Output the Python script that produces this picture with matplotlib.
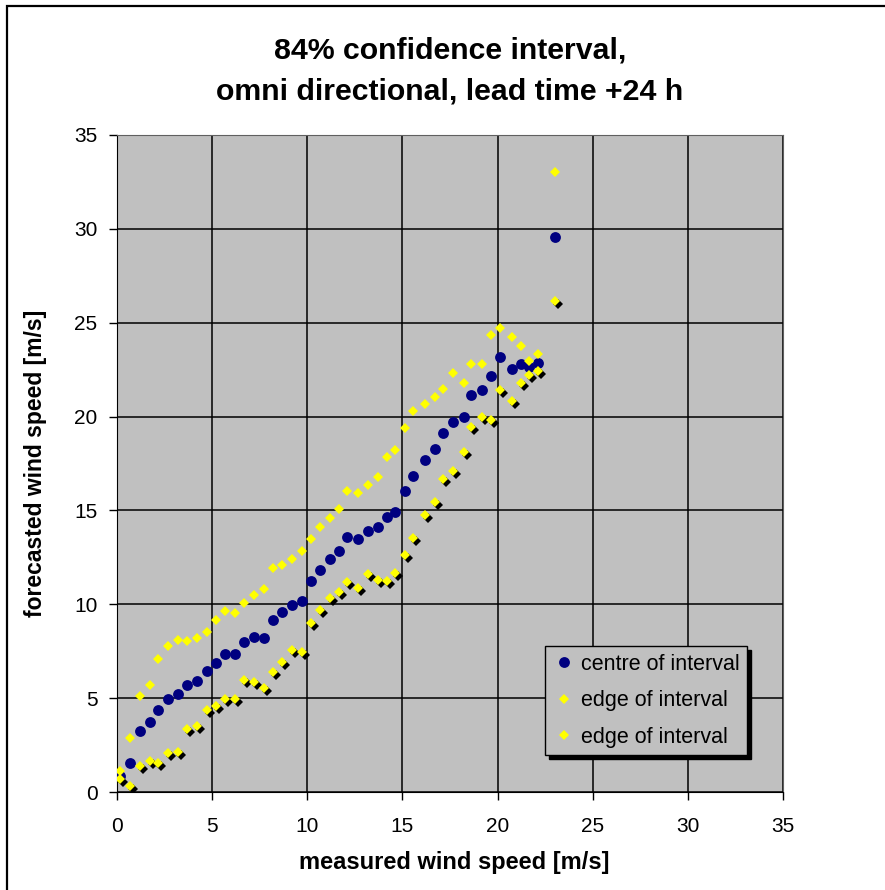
import numpy as np
import matplotlib as mpl
mpl.use('Agg')
import matplotlib.pyplot as plt
from matplotlib.patches import Rectangle
from matplotlib.transforms import offset_copy

plt.rcParams['font.family'] = ['Liberation Sans', 'DejaVu Sans']

# measured wind speed (bin positions)
measured = [0.18, 0.69, 1.2, 1.73, 2.18, 2.69, 3.18, 3.7, 4.2, 4.72,
            5.18, 5.68, 6.18, 6.68, 7.2, 7.7, 8.2, 8.68, 9.2, 9.7,
            10.2, 10.68, 11.19, 11.69, 12.1, 12.67, 13.19, 13.7, 14.19, 14.6,
            15.11, 15.58, 16.2, 16.7, 17.13, 17.68, 18.22, 18.62, 19.2, 19.65,
            20.12, 20.74, 21.22, 21.66, 22.14, 23.03]

centre = [0.85, 1.56, 3.25, 3.73, 4.37, 4.95, 5.22, 5.70, 5.91, 6.46,
          6.86, 7.35, 7.35, 8.01, 8.24, 8.22, 9.18, 9.57, 9.98, 10.18,
          11.22, 11.8, 12.41, 12.82, 13.6, 13.46, 13.92, 14.13, 14.63, 14.93,
          16.03, 16.82, 17.71, 18.28, 19.1, 19.71, 19.98, 21.13, 21.4, 22.14,
          23.15, 22.55, 22.82, 22.64, 22.87, 29.59]

upper = [1.1, 2.86, 5.1, 5.69, 7.06, 7.78, 8.09, 8.03, 8.21, 8.53,
         9.15, 9.63, 9.54, 10.07, 10.49, 10.81, 11.91, 12.09, 12.41, 12.82,
         13.49, 14.11, 14.61, 15.1, 16.03, 15.94, 16.35, 16.77, 17.85, 18.21,
         19.39, 20.29, 20.65, 21.04, 21.45, 22.34, 21.81, 22.82, 22.82, 24.36,
         24.73, 24.23, 23.76, 22.96, 23.31, 33.05]

lower = [0.7, 0.34, 1.4, 1.63, 1.56, 2.06, 2.14, 3.35, 3.53, 4.35,
         4.59, 4.96, 4.96, 5.99, 5.87, 5.52, 6.40, 6.93, 7.59, 7.46,
         8.99, 9.7, 10.32, 10.64, 11.17, 10.88, 11.6, 11.29, 11.24, 11.65,
         12.62, 13.51, 14.75, 15.44, 16.7, 17.1, 18.12, 19.45, 19.98, 19.84,
         21.44, 20.81, 21.81, 22.2, 22.41, 26.15]

ticks = np.arange(0, 36, 5)

fig = plt.figure(figsize=(8.85, 8.9), dpi=100)
ax = fig.add_axes([117 / 885, 1 - 792 / 890, 666 / 885, 657 / 890])
ax.set_facecolor('#c0c0c0')

# outer chart frame (right / bottom edges run off the picture)
fig.patches.append(Rectangle((7 / 885, -0.1), 1.2, 1.1 - 6 / 890, transform=fig.transFigure,
                             fill=False, edgecolor='black', linewidth=1.6))

ax.plot(measured, centre, 'o', color='#000080', markersize=7.8, markeredgewidth=0,
        label='centre of interval', zorder=3)
ax.plot(measured, upper, 'D', color='#ffff00', markersize=5.0, markeredgewidth=0,
        label='edge of interval', zorder=4)
# lower edge has a black drop shadow
shadow = offset_copy(ax.transData, fig=fig, x=3, y=-3, units='dots')
ax.plot(measured, lower, 'D', color='black', markersize=5.6, markeredgewidth=0,
        transform=shadow, zorder=4.5)
ax.plot(measured, lower, 'D', color='#ffff00', markersize=5.6, markeredgewidth=0,
        label='edge of interval', zorder=5)

ax.set_xlim(0, 35)
ax.set_ylim(0, 35)
ax.set_xticks(ticks)
ax.set_yticks(ticks)
ax.grid(True, color='black', linewidth=1.1)
ax.set_axisbelow(True)
ax.tick_params(direction='out', length=6, width=1, labelsize=15, pad=8)
ax.tick_params(axis='x', pad=12)
for side in ['left', 'bottom']:
    ax.spines[side].set_color('black')
for side in ['right', 'top']:
    ax.spines[side].set_color('#606060')

fig.text(450 / 885, 1 - 71 / 890, '84% confidence interval,\nomni directional, lead time +24 h',
         ha='center', va='center', fontsize=21.8, fontweight='bold', linespacing=1.55)
fig.text(454 / 885, 1 - 862 / 890, 'measured wind speed [m/s]', ha='center', va='center',
         fontsize=17, fontweight='bold')
fig.text(36 / 885, 1 - 463 / 890, 'forecasted wind speed [m/s]', ha='center', va='center',
         rotation=90, fontsize=16.5, fontweight='bold')

leg = ax.legend(loc='upper right', bbox_to_anchor=(0.946, 0.222), borderaxespad=0,
                fontsize=15.5, facecolor='#c0c0c0', edgecolor='black', framealpha=1,
                fancybox=False, labelspacing=0.72, handletextpad=0.3, handlelength=1.0,
                borderpad=0.35,
                shadow={'ox': 2.5, 'oy': -2.5, 'facecolor': 'black', 'edgecolor': 'black', 'alpha': 1})
leg.get_frame().set_linewidth(1.0)

fig.savefig('out.png', dpi=100)
